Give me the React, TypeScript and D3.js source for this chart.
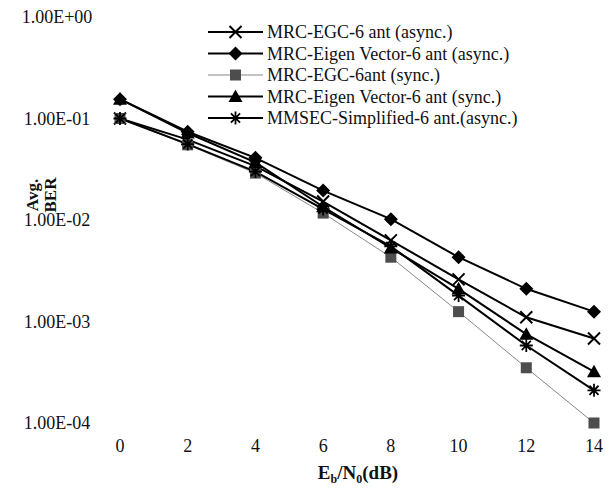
import React from "react";
import * as d3 from "d3";

const xValues = [0, 2, 4, 6, 8, 10, 12, 14];
const seriesNames = [
  "MRC-EGC-6 ant (async.)",
  "MRC-Eigen Vector-6 ant (async.)",
  "MRC-EGC-6ant (sync.)",
  "MRC-Eigen Vector-6 ant (sync.)",
  "MMSEC-Simplified-6 ant.(async.)",
];
const egcAsync = [0.1, 0.062, 0.034, 0.0152, 0.0063, 0.0026, 0.0011, 0.00068];
const eigenAsync = [0.155, 0.074, 0.041, 0.0195, 0.0102, 0.0043, 0.0021, 0.00125];
const egcSync = [0.1, 0.055, 0.029, 0.0117, 0.0043, 0.00125, 0.00035, 0.0001];
const eigenSync = [0.155, 0.072, 0.037, 0.0135, 0.0053, 0.0021, 0.00075, 0.00032];
const mmsecAsync = [0.1, 0.056, 0.03, 0.0128, 0.0055, 0.0018, 0.00058, 0.00021];
const yTicks = [1, 0.1, 0.01, 0.001, 0.0001];
const yTickLabels = ["1.00E+00", "1.00E-01", "1.00E-02", "1.00E-03", "1.00E-04"];

const W = 610;
const H = 494;
const FONT = "'Liberation Serif', 'Times New Roman', serif";

const seriesData = [egcAsync, eigenAsync, egcSync, eigenSync, mmsecAsync];
const markerTypes = ["x", "diamond", "square", "triangle", "star"];

function Marker({ type, x, y }: { type: string; x: number; y: number }) {
  if (type === "x") {
    const s = 6;
    return (
      <path
        d={`M${x - s},${y - s}L${x + s},${y + s}M${x - s},${y + s}L${x + s},${y - s}`}
        stroke="#000"
        strokeWidth={2}
      />
    );
  }
  if (type === "diamond") {
    const s = 7;
    return <path d={`M${x},${y - s}L${x + s},${y}L${x},${y + s}L${x - s},${y}Z`} fill="#000" />;
  }
  if (type === "square") {
    const s = 5.5;
    return <rect x={x - s} y={y - s} width={2 * s} height={2 * s} fill="#4d4d4d" />;
  }
  if (type === "triangle") {
    const s = 7;
    return <path d={`M${x},${y - s}L${x + s},${y + s * 0.8}L${x - s},${y + s * 0.8}Z`} fill="#000" />;
  }
  const s = 6.5;
  return (
    <path
      d={`M${x - s},${y}L${x + s},${y}M${x - s * 0.7},${y - s * 0.7}L${x + s * 0.7},${y + s * 0.7}M${x - s * 0.7},${y + s * 0.7}L${x + s * 0.7},${y - s * 0.7}M${x},${y - s}L${x},${y + s}`}
      stroke="#000"
      strokeWidth={1.8}
    />
  );
}

export default function App() {
  const x = d3.scaleLinear().domain([0, 14]).range([120, 594]);
  const y = d3.scaleLog().domain([1e-4, 1]).range([423, 17]);
  const line = d3
    .line<number>()
    .x((_, i) => x(xValues[i]))
    .y((d) => y(d));

  const legendY = d3.scaleLinear().domain([0, 4]).range([32, 118]);

  return (
    <svg width={W} height={H} style={{ position: "absolute", left: 0, top: 0, background: "#fff" }}>
      <rect width={W} height={H} fill="#fff" />
      {yTicks.map((t, i) => (
        <text
          key={t}
          x={57}
          y={y(t)}
          textAnchor="middle"
          dominantBaseline="central"
          fontFamily={FONT}
          fontSize={18}
          fill="#111"
        >
          {yTickLabels[i]}
        </text>
      ))}
      {xValues.map((v) => (
        <text
          key={v}
          x={x(v)}
          y={446}
          textAnchor="middle"
          dominantBaseline="central"
          fontFamily={FONT}
          fontSize={18}
          fill="#111"
        >
          {v}
        </text>
      ))}
      <text x={358} y={479} textAnchor="middle" fontFamily={FONT} fontSize={19} fontWeight="bold" fill="#111">
        E<tspan fontSize={12} dy={4}>b</tspan>
        <tspan dy={-4}>/N</tspan>
        <tspan fontSize={12} dy={4}>0</tspan>
        <tspan dy={-4}>(dB)</tspan>
      </text>
      <g transform="translate(44,195) rotate(-90)">
        <text x={0} y={-6} textAnchor="middle" fontFamily={FONT} fontSize={17} fontWeight="bold" fill="#111">
          Avg.
        </text>
        <text x={0} y={12} textAnchor="middle" fontFamily={FONT} fontSize={17} fontWeight="bold" fill="#111">
          BER
        </text>
      </g>
      {seriesData.map((d, si) => (
        <path
          key={si}
          d={line(d) || ""}
          fill="none"
          stroke={si === 2 ? "#888" : "#000"}
          strokeWidth={si === 2 ? 1 : 2}
        />
      ))}
      {seriesData.map((d, si) => (
        <g key={si}>
          {d.map((v, i) => (
            <Marker key={i} type={markerTypes[si]} x={x(xValues[i])} y={y(v)} />
          ))}
        </g>
      ))}
      <g>
        {seriesNames.map((name, i) => (
          <g key={name}>
            <line
              x1={208}
              x2={263}
              y1={legendY(i)}
              y2={legendY(i)}
              stroke={i === 2 ? "#888" : "#000"}
              strokeWidth={i === 2 ? 1 : 2}
            />
            <Marker type={markerTypes[i]} x={235.5} y={legendY(i)} />
            <text
              x={267}
              y={legendY(i)}
              dominantBaseline="central"
              fontFamily={FONT}
              fontSize={18}
              fill="#111"
            >
              {name}
            </text>
          </g>
        ))}
      </g>
    </svg>
  );
}
